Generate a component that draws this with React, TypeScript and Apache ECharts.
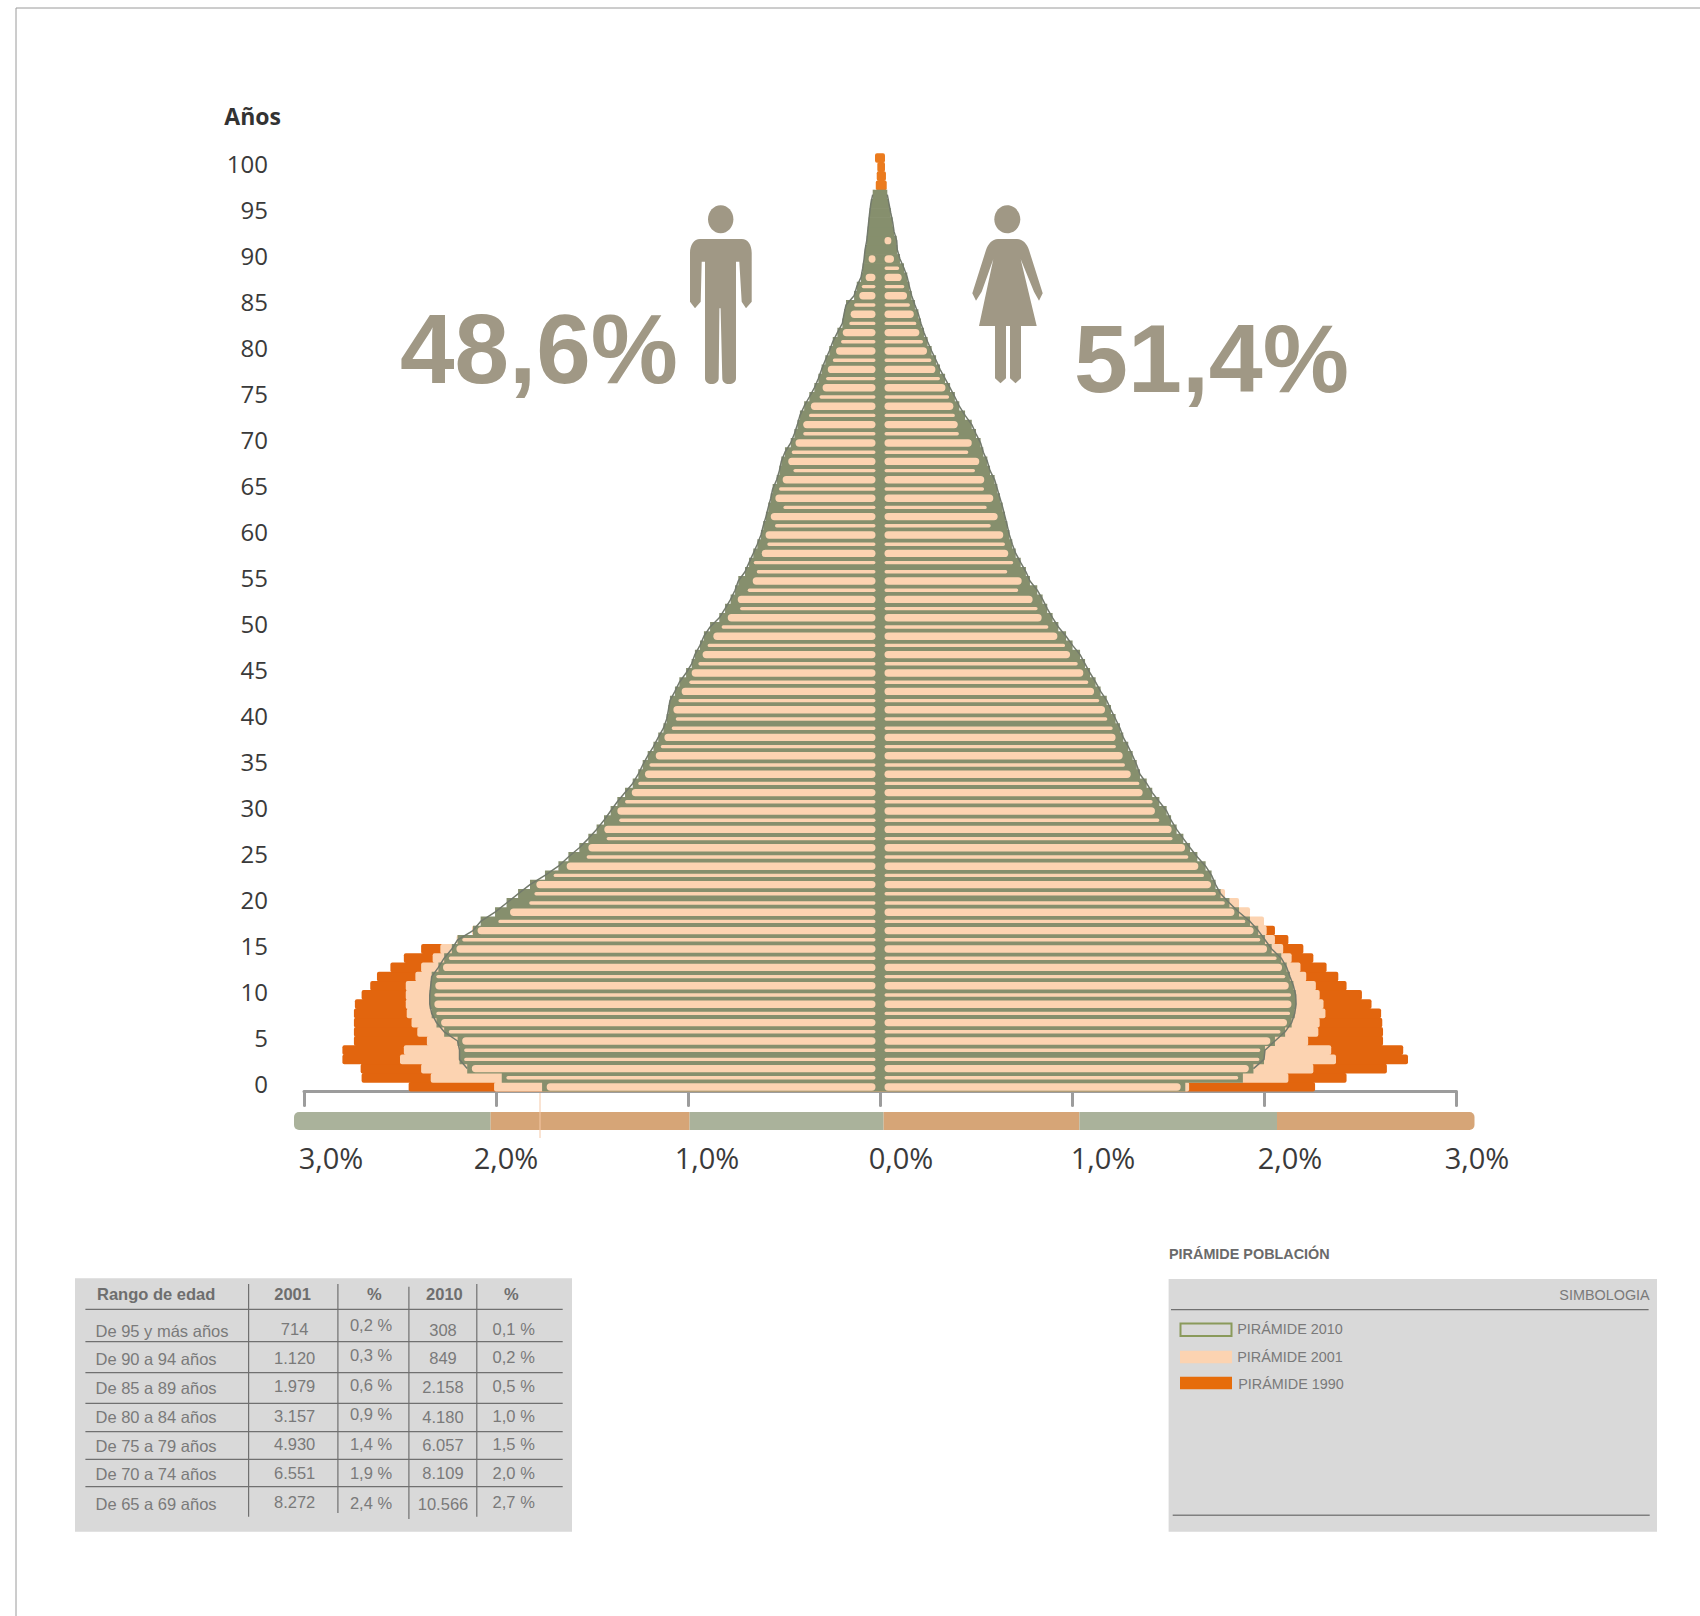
import React, { useEffect, useRef } from "react";
import * as echarts from "echarts";

const ages = Array.from({ length: 102 }, (_, i) => String(i));
const xTickValues = [-3, -2, -1, 0, 1, 2, 3];
const xTickLabels = ["3,0%", "2,0%", "1,0%", "0,0%", "1,0%", "2,0%", "3,0%"];
const xLabelShift = [54, 20, 38, 42, 62, 52, 42];

// % of population per single year of age, ages 0..97
const male2010 = [1.76,1.97,2.15,2.19,2.19,2.2,2.27,2.31,2.335,2.345,2.345,2.34,2.335,2.3,2.27,2.23,2.2,2.12,2.08,2.005,1.945,1.885,1.823,1.745,1.675,1.623,1.566,1.519,1.476,1.4375,1.403,1.368,1.328,1.288,1.259,1.236,1.21,1.18,1.155,1.128,1.111,1.102,1.094,1.068,1.045,1.01,0.981,0.964,0.9375,0.917,0.885,0.837,0.807,0.778,0.755,0.738,0.703,0.682,0.66,0.639,0.62,0.608,0.594,0.582,0.569,0.559,0.538,0.524,0.514,0.495,0.465,0.446,0.43,0.417,0.395,0.368,0.342,0.321,0.304,0.285,0.264,0.246,0.222,0.196,0.1875,0.177,0.135,0.121,0.099,0.09,0.083,0.078,0.069,0.064,0.059,0.054,0.048,0.038];
const female2010 = [1.59,1.89,1.945,2.0,2.005,2.057,2.11,2.144,2.16,2.167,2.165,2.153,2.135,2.118,2.09,2.04,2.005,1.97,1.927,1.87,1.82,1.774,1.748,1.727,1.696,1.653,1.615,1.58,1.545,1.516,1.493,1.455,1.418,1.389,1.354,1.337,1.316,1.293,1.267,1.25,1.227,1.203,1.181,1.149,1.123,1.094,1.068,1.042,1.003,0.969,0.929,0.899,0.871,0.847,0.819,0.781,0.76,0.733,0.707,0.689,0.674,0.663,0.651,0.639,0.625,0.611,0.597,0.573,0.559,0.538,0.524,0.5,0.478,0.443,0.413,0.39,0.365,0.339,0.3125,0.292,0.269,0.248,0.229,0.2135,0.2,0.182,0.165,0.153,0.142,0.125,0.104,0.09,0.087,0.073,0.066,0.056,0.047,0.038];
// ages 0..92
const male2001 = [2.01,2.34,2.39,2.5,2.48,2.36,2.41,2.44,2.465,2.47,2.47,2.47,2.42,2.39,2.33,2.29,2.205,2.125,1.988,1.927,1.827,1.8,1.79,1.7,1.632,1.528,1.519,1.424,1.436,1.358,1.368,1.328,1.293,1.259,1.224,1.201,1.168,1.142,1.123,1.085,1.064,1.076,1.05,1.033,0.993,0.981,0.946,0.924,0.898,0.868,0.825,0.793,0.729,0.741,0.689,0.663,0.642,0.66,0.616,0.587,0.604,0.547,0.569,0.503,0.547,0.526,0.507,0.451,0.478,0.46,0.44,0.4,0.4,0.37,0.36,0.315,0.299,0.281,0.272,0.246,0.229,0.203,0.194,0.16,0.153,0.135,0.108,0.095,0.087,0,0.061,0,0];
const female2001 = [1.61,2.127,2.257,2.375,2.35,2.23,2.283,2.29,2.32,2.31,2.29,2.27,2.22,2.19,2.144,2.1,2.057,2.014,2.0,1.927,1.87,1.797,1.727,1.6875,1.658,1.606,1.589,1.524,1.519,1.455,1.432,1.42,1.368,1.351,1.306,1.276,1.264,1.229,1.227,1.212,1.184,1.172,1.142,1.115,1.085,1.059,1.03,0.99,0.964,0.924,0.877,0.842,0.821,0.795,0.72,0.738,0.663,0.694,0.668,0.651,0.642,0.577,0.613,0.556,0.59,0.542,0.543,0.495,0.517,0.46,0.478,0.411,0.405,0.39,0.382,0.36,0.352,0.3125,0.304,0.278,0.264,0.246,0.226,0.212,0.1875,0.156,0.148,0.127,0.113,0.1,0.073,0,0.059];
// ages 0..15, then the visible tip, ages 98..101
const male1990 = [2.455,2.7,2.705,2.8,2.8,2.74,2.74,2.74,2.74,2.735,2.7,2.655,2.62,2.55,2.48,2.39];
const female1990 = [2.266,2.43,2.64,2.75,2.725,2.62,2.62,2.616,2.61,2.56,2.51,2.43,2.387,2.326,2.257,2.205,2.127,2.057];
const male1990Tip = [0.022,0.017,0.014,0.026];
const female1990Tip = [0.035,0.031,0.026,0.026];
const wideStripeAges = [0,2,5,7,9,11,13,15,17,19,22,24,26,28,30,32,34,36,38,41,43,45,47,49,51,53,55,58,60,62,64,66,68,70,72,74,76,78,80,82,84,86,88,90,92];

const tableHeader = ["Rango de edad", "2001", "%", "2010", "%"];
const ageRanges = ["De 95 y más años","De 90 a 94 años","De 85 a 89 años","De 80 a 84 años","De 75 a 79 años","De 70 a 74 años","De 65 a 69 años"];
const counts2001 = ["714","1.120","1.979","3.157","4.930","6.551","8.272"];
const percents2001 = ["0,2 %","0,3 %","0,6 %","0,9 %","1,4 %","1,9 %","2,4 %"];
const counts2010 = ["308","849","2.158","4.180","6.057","8.109","10.566"];
const percents2010 = ["0,1 %","0,2 %","0,5 %","1,0 %","1,5 %","2,0 %","2,7 %"];
const legendLabels = ["PIRÁMIDE 2010","PIRÁMIDE 2001","PIRÁMIDE 1990"];

const OLIVE = "#868F6D";
const EDGE = "#737A6C";
const PEACH = "#FCD3B1";
const ORANGE = "#E2650E";
const TIP = "#EB7B1E";
const FIGURE = "#A09885";
const UNIT = "Open Sans, sans-serif";
const ARIAL = "Liberation Sans, Arial, sans-serif";

const manPath = "M700 239L741.7 239C748 239 751.7 245 751.7 253L751.7 301.7L746 308.3L741.7 301.7L739.3 261.7L736 261.7L736 378C736 382 733 384 729 384C725 384 722.3 382 722.3 378L720.6 308.3L719.4 308.3L718.7 378C718.7 382 715 384 711.7 384C708 384 705 382 705 378L705 261.7L701.7 261.7L700.7 301.7L695 308.3L690 301.7L690 253C690 245 694 239 700 239Z";
const womanPath = "M998 239L1017 239C1023 239 1027 244 1029 250L1042.7 293.3L1039 300.7L1034 291.7L1020.7 259.3L1036.7 326L1021 326L1021 378.3L1015.5 383.3L1010 378.3L1010 326L1006 326L1006 378.3L1000.5 383.3L995 378.3L995 326L979 326L993.3 259.3L981.7 291.7L976 300.7L972.3 293.3L986 250C988 244 992 239 998 239Z";
echarts.graphic.registerShape("manIcon", echarts.graphic.extendPath(manPath, {}));
echarts.graphic.registerShape("womanIcon", echarts.graphic.extendPath(womanPath, {}));

function fullColumn(young: number[], tip: number[], sign: number) {
  return ages.map((_, i) => {
    if (i < young.length) return sign * young[i];
    if (i >= 98) return { value: sign * tip[i - 98], itemStyle: { color: TIP } };
    return null;
  });
}

function stripeSeries(outer: number[], inner: number[], sign: number, name: string) {
  const data = outer.map((v, i) => [sign * Math.min(v - 0.024, inner[i] ?? 0), i]);
  return {
    type: "custom",
    name,
    z: 6,
    encode: { x: 0, y: 1 },
    data,
    renderItem: (_: any, api: any) => {
      const value = api.value(0);
      const age = api.value(1);
      const end = api.coord([value, age]);
      const start = api.coord([0, age]);
      const gap = 4.5;
      const from = start[0] + sign * gap;
      const width = (end[0] - from) * sign;
      if (width < 2) return null;
      const h = wideStripeAges.includes(age) ? 7.4 : 3.4;
      return {
        type: "rect",
        shape: {
          x: sign > 0 ? from : end[0],
          y: end[1] - h / 2,
          width,
          height: h,
          r: h / 2,
        },
        style: { fill: PEACH },
      };
    },
  };
}

function text(x: number, y: number, t: string, size: number, fill: string, opts: any = {}) {
  return {
    type: "text",
    x,
    y,
    silent: true,
    style: {
      text: t,
      fill,
      font: `${opts.weight || "normal"} ${size}px ${opts.family || ARIAL}`,
      textAlign: opts.align || "left",
      textVerticalAlign: opts.v || "middle",
    },
  };
}
function hline(x1: number, x2: number, y: number, color = "#707070", w = 1.2) {
  return { type: "line", silent: true, shape: { x1, y1: y, x2, y2: y }, style: { stroke: color, lineWidth: w } };
}
function vline(x: number, y1: number, y2: number, color = "#707070", w = 1.2) {
  return { type: "line", silent: true, shape: { x1: x, y1, x2: x, y2 }, style: { stroke: color, lineWidth: w } };
}

function buildGraphics() {
  const g: any[] = [];
  // page frame
  g.push(hline(16, 1700, 8, "#9a9a9a", 1), vline(16, 8, 1616, "#9a9a9a", 1));
  // colour band under the axis
  const bandEdges = [294, 490.6, 689.6, 883.6, 1079.4, 1277, 1474.5];
  bandEdges.slice(0, -1).forEach((x, i) => {
    const last = i === 5;
    const first = i === 0;
    g.push({
      type: "rect",
      silent: true,
      shape: {
        x,
        y: 1112,
        width: bandEdges[i + 1] - x,
        height: 18,
        r: first ? [5, 0, 0, 5] : last ? [0, 5, 5, 0] : 0,
      },
      style: { fill: i % 2 === 0 ? "#AAB29B" : "#D6A577" },
    });
  });
  g.push(vline(540, 1093, 1138, "#F5C8A6", 1));
  // figures and totals
  g.push(text(400, 349, "48,6%", 98, FIGURE, { weight: "bold" }));
  g.push(text(1074, 358, "51,4%", 97, FIGURE, { weight: "bold" }));
  g.push({ type: "ellipse", silent: true, shape: { cx: 720.7, cy: 219.3, rx: 12.7, ry: 14 }, style: { fill: FIGURE } });
  g.push({ type: "manIcon", silent: true, x: 0, y: 0, style: { fill: FIGURE } });
  g.push({ type: "ellipse", silent: true, shape: { cx: 1007.3, cy: 219.3, rx: 13, ry: 14 }, style: { fill: FIGURE } });
  g.push({ type: "womanIcon", silent: true, x: 0, y: 0, style: { fill: FIGURE } });
  // table
  g.push({ type: "rect", silent: true, shape: { x: 75, y: 1278.3, width: 497, height: 253.4 }, style: { fill: "#D9D9D9" } });
  [1309.3, 1341.7, 1372.7, 1403.3, 1431.7, 1459.3, 1486.7].forEach((y) => g.push(hline(85.4, 562.7, y)));
  g.push(vline(248.6, 1284, 1516.7), vline(337.9, 1284, 1513), vline(408.9, 1286.7, 1519), vline(476.8, 1284, 1516.7));
  const headX = [97, 292.6, 374.4, 444.4, 511.3];
  tableHeader.forEach((t, i) =>
    g.push(text(headX[i], 1294.3, t, 16.5, "#6E6E6E", { weight: "bold", align: i === 0 ? "left" : "center" }))
  );
  const nameY = [1330.7, 1359.3, 1387.7, 1417.3, 1445.7, 1474, 1504];
  const y2001 = [1329.3, 1357.7, 1386, 1415.7, 1444.3, 1472.7, 1502.3];
  const yP01 = [1325, 1355, 1385, 1414.3, 1444, 1473.3, 1502.7];
  const y2010 = [1330, 1358.3, 1387.3, 1416.7, 1445, 1473.3, 1504];
  const yP10 = [1329, 1357.3, 1386, 1415.7, 1444, 1472.7, 1502.3];
  ageRanges.forEach((t, i) => {
    g.push(text(95.5, nameY[i], t, 16.5, "#7A7A7A"));
    g.push(text(294.6, y2001[i], counts2001[i], 16.5, "#7A7A7A", { align: "center" }));
    g.push(text(371, yP01[i], percents2001[i], 16.5, "#7A7A7A", { align: "center" }));
    g.push(text(443, y2010[i], counts2010[i], 16.5, "#7A7A7A", { align: "center" }));
    g.push(text(513.7, yP10[i], percents2010[i], 16.5, "#7A7A7A", { align: "center" }));
  });
  // legend panel
  g.push(text(1169, 1254, "PIRÁMIDE POBLACIÓN", 14.4, "#6A6A6A", { weight: "bold" }));
  g.push({ type: "rect", silent: true, shape: { x: 1168.6, y: 1279, width: 488.4, height: 252.7 }, style: { fill: "#D9D9D9" } });
  g.push(text(1649.7, 1295, "SIMBOLOGIA", 14.4, "#7A7A7A", { align: "right" }));
  g.push(hline(1171, 1648.6, 1309.7, "#707070", 1.2), hline(1172.7, 1649.7, 1515.3, "#808080", 1.6));
  g.push({ type: "rect", silent: true, shape: { x: 1180.5, y: 1323.5, width: 51, height: 12.5 }, style: { fill: "none", stroke: "#8A9A5B", lineWidth: 2 } });
  g.push({ type: "rect", silent: true, shape: { x: 1180, y: 1350.7, width: 52, height: 12.6 }, style: { fill: PEACH } });
  g.push({ type: "rect", silent: true, shape: { x: 1180, y: 1376.7, width: 52, height: 12.6 }, style: { fill: "#E66C0A" } });
  g.push(text(1237.2, 1329.3, legendLabels[0], 14.4, "#7A7A7A"));
  g.push(text(1237.2, 1356.7, legendLabels[1], 14.4, "#7A7A7A"));
  g.push(text(1238.2, 1384, legendLabels[2], 14.4, "#7A7A7A"));
  return g;
}

function barSeries(name: string, data: any[], color: string, z: number, radius: number[]) {
  return {
    type: "bar",
    name,
    data,
    barWidth: 9.8,
    barGap: "-100%",
    z,
    itemStyle: { color, borderRadius: radius },
    silent: true,
  };
}
function edgeSeries(name: string, values: number[], sign: number) {
  return {
    type: "line",
    name,
    z: 5,
    symbol: "none",
    silent: true,
    lineStyle: { color: EDGE, width: 1.5 },
    data: values.map((v, i) => (i < 2 ? null : [sign * v, i])).filter(Boolean),
  };
}

function buildOption() {
  const leftEnd = [2, 0, 0, 2];
  const rightEnd = [0, 2, 2, 0];
  const square = [0, 0, 0, 0];
  return {
    animation: false,
    backgroundColor: "#ffffff",
    grid: { left: 304, right: 244, top: 153.2, bottom: 524.4, containLabel: false },
    xAxis: {
      type: "value",
      min: -3,
      max: 3,
      interval: 1,
      splitLine: { show: false },
      axisLine: { show: true, onZero: false, lineStyle: { color: "#9C9C9C", width: 3, cap: "round" } },
      axisTick: { show: true, length: 14, lineStyle: { color: "#9C9C9C", width: 3, cap: "round" } },
      axisLabel: {
        margin: 51,
        hideOverlap: false,
        showMinLabel: true,
        showMaxLabel: true,
        formatter: (v: number) => {
          const i = xTickValues.indexOf(Math.round(v));
          return `{p${i}|${xTickLabels[i]}}`;
        },
        rich: Object.fromEntries(
          xLabelShift.map((s, i) => [
            `p${i}`,
            { padding: [0, 0, 0, s], fontFamily: UNIT, fontSize: 29, color: "#3A3A3A" },
          ])
        ),
      },
    },
    yAxis: {
      type: "category",
      data: ages,
      name: "Años",
      nameLocation: "end",
      nameGap: 26,
      nameTextStyle: { fontFamily: UNIT, fontSize: 23, fontWeight: "bold", color: "#333", align: "right", padding: [0, 23, 0, 0] },
      axisLine: { show: false, onZero: false },
      axisTick: { show: false },
      axisLabel: {
        interval: 4,
        margin: 36,
        formatter: (v: string) => `{n|${v}}`,
        rich: { n: { fontFamily: UNIT, fontSize: 24, color: "#3A3A3A", padding: [0, 0, 8, 0] } },
      },
    },
    series: [
      barSeries("Pirámide 1990 hombres", fullColumn(male1990, male1990Tip, -1), ORANGE, 2, leftEnd),
      barSeries("Pirámide 1990 mujeres", fullColumn(female1990, female1990Tip, 1), ORANGE, 2, rightEnd),
      barSeries("Pirámide 2001 hombres", male2001.map((v) => -v), PEACH, 3, leftEnd),
      barSeries("Pirámide 2001 mujeres", female2001, PEACH, 3, rightEnd),
      barSeries("Pirámide 2010 hombres", male2010.map((v) => -v), OLIVE, 4, square),
      barSeries("Pirámide 2010 mujeres", female2010, OLIVE, 4, square),
      edgeSeries("Contorno 2010 hombres", male2010, -1),
      edgeSeries("Contorno 2010 mujeres", female2010, 1),
      stripeSeries(male2010, male2001, -1, "Franjas hombres"),
      stripeSeries(female2010, female2001, 1, "Franjas mujeres"),
    ],
    graphic: { elements: buildGraphics() },
  };
}

export default function App() {
  const ref = useRef<HTMLDivElement>(null);
  useEffect(() => {
    const chart = echarts.init(ref.current!, null, { renderer: "svg" });
    chart.setOption(buildOption() as any);
    return () => chart.dispose();
  }, []);
  return <div ref={ref} style={{ position: "absolute", left: 0, top: 0, width: 1700, height: 1616 }} />;
}
